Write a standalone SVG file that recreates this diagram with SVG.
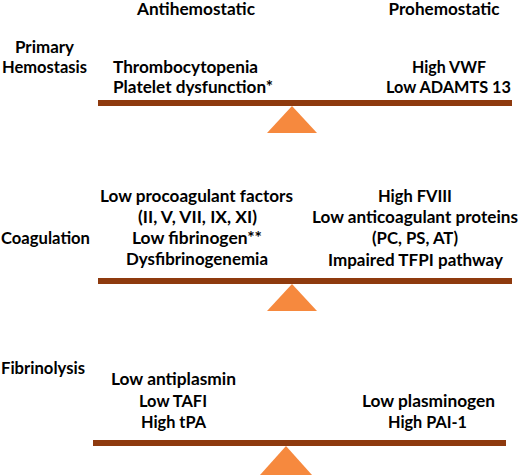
<svg xmlns="http://www.w3.org/2000/svg" width="520" height="475" viewBox="0 0 520 475">
<style>
text{font-family:Lato,"Open Sans","Liberation Sans",sans-serif;font-weight:bold;font-size:17px;fill:#000;text-anchor:middle}
.bar{fill:#8e3a0e}
.ful{fill:#f6893e}
</style>
<rect width="520" height="475" fill="#fff"/>
<g id="headers">
<text x="196" y="15" textLength="118" lengthAdjust="spacingAndGlyphs">Antihemostatic</text>
<text x="444" y="15" textLength="111" lengthAdjust="spacingAndGlyphs">Prohemostatic</text>
</g>
<g id="primary">
<text x="44.5" y="53" textLength="59" lengthAdjust="spacingAndGlyphs">Primary</text>
<text x="44.5" y="73" textLength="85" lengthAdjust="spacingAndGlyphs">Hemostasis</text>
<text x="185.5" y="73" textLength="145" lengthAdjust="spacingAndGlyphs">Thrombocytopenia</text>
<text x="193" y="93" textLength="160" lengthAdjust="spacingAndGlyphs">Platelet dysfunction*</text>
<text x="449" y="73" textLength="74" lengthAdjust="spacingAndGlyphs">High VWF</text>
<text x="448.5" y="93" textLength="125" lengthAdjust="spacingAndGlyphs">Low ADAMTS 13</text>
<rect class="bar" x="98" y="100" width="414" height="6"/>
<polygon class="ful" points="267,133 317,133 292,106"/>
</g>
<g id="coagulation">
<text x="45.5" y="244" textLength="89" lengthAdjust="spacingAndGlyphs">Coagulation</text>
<text x="196.5" y="202" textLength="193" lengthAdjust="spacingAndGlyphs">Low procoagulant factors</text>
<text x="197.5" y="223" textLength="119" lengthAdjust="spacingAndGlyphs">(II, V, VII, IX, XI)</text>
<text x="197" y="244" textLength="130" lengthAdjust="spacingAndGlyphs">Low fibrinogen**</text>
<text x="197" y="265" textLength="142" lengthAdjust="spacingAndGlyphs">Dysfibrinogenemia</text>
<text x="415" y="202" textLength="74" lengthAdjust="spacingAndGlyphs">High FVIII</text>
<text x="415" y="223" textLength="206" lengthAdjust="spacingAndGlyphs">Low anticoagulant proteins</text>
<text x="415" y="244" textLength="86" lengthAdjust="spacingAndGlyphs">(PC, PS, AT)</text>
<text x="415.5" y="266" textLength="175" lengthAdjust="spacingAndGlyphs">Impaired TFPI pathway</text>
<rect class="bar" x="98" y="278" width="414" height="6"/>
<polygon class="ful" points="267,311 317,311 292,284"/>
</g>
<g id="fibrinolysis">
<text x="43" y="374" textLength="84" lengthAdjust="spacingAndGlyphs">Fibrinolysis</text>
<text x="173.5" y="385" textLength="125" lengthAdjust="spacingAndGlyphs">Low antiplasmin</text>
<text x="173" y="407" textLength="68" lengthAdjust="spacingAndGlyphs">Low TAFI</text>
<text x="173.5" y="428" textLength="65" lengthAdjust="spacingAndGlyphs">High tPA</text>
<text x="428.5" y="407" textLength="133" lengthAdjust="spacingAndGlyphs">Low plasminogen</text>
<text x="427.5" y="428" textLength="79" lengthAdjust="spacingAndGlyphs">High PAI-1</text>
<rect class="bar" x="93" y="440" width="413" height="6"/>
<polygon class="ful" points="260,475 312,475 286,446"/>
</g>
</svg>
